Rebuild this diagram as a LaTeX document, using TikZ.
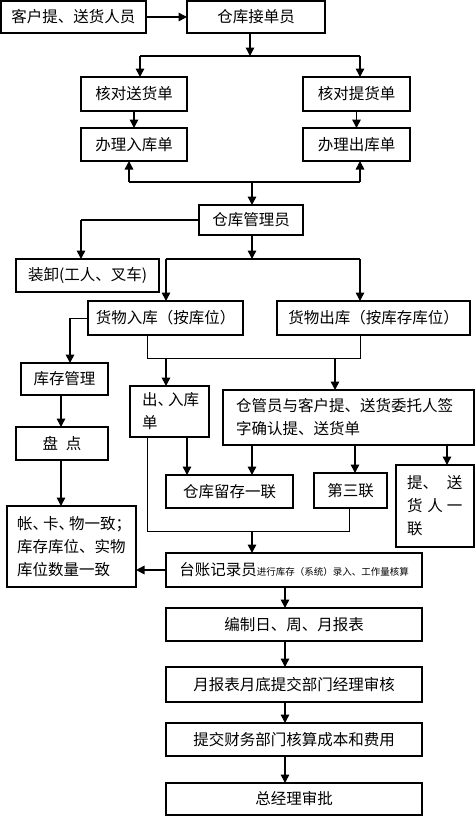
\documentclass[tikz,border=0pt]{standalone}
\usepackage{fontspec}
\setmainfont{Noto Sans CJK SC}
\usetikzlibrary{arrows.meta,calc}
\newcommand\dn{、\kern-5pt}
\newcommand\bx[7][]{\node[box,minimum width={(#5)-(#3)},minimum height={(#6)-(#4)},#1] (#2) at ({((#3)+(#5))/2},{((#4)+(#6))/2}) {#7};}
\tikzset{
  box/.style={draw,line width=1.2pt,inner sep=0pt,outer sep=0pt,font=\fontsize{15.5}{23}\selectfont},
  arr/.style={line width=1.6pt,-{Triangle[length=8.5pt,width=8.5pt]}},
  thk/.style={line width=1.6pt},
  thn/.style={line width=1pt}
}
\begin{document}
\begin{tikzpicture}[x=1pt,y=-1pt]
\useasboundingbox (0,0) rectangle (476,817);
% boxes
\bx{kh}{1}{1}{146}{33}{客户提、送货人员}
\bx{jd}{187}{1}{325}{33}{仓库接单员}
\bx{hs}{81}{77}{187}{111}{核对送货单}
\bx{ht}{303}{77}{410}{111}{核对提货单}
\bx{rk}{81}{128}{187}{161}{办理入库单}
\bx{ck}{303}{128}{410}{161}{办理出库单}
\bx{gl}{199}{205}{303}{235}{仓库管理员}
\bx{zx}{16}{259}{159}{292}{装卸(工人、叉车)}
\bx{hr}{88}{301}{243}{335}{货物入库（按库位）}
\bx{hc}{277}{301}{470}{335}{货物出库（按库存库位）}
\bx{kc}{21}{363}{108}{395}{库存管理}
\bx{pd}{16}{427}{108}{460}{盘\hspace{8pt}点}
\bx[text width=109pt,align=left]{yz}{7}{506}{136}{587}{帐\dn 卡\dn 物一致；\\库存库位、实物\\库位数量一致}
\bx[text width=55pt,align=left]{crd}{130}{386}{209}{437}{出\dn 入库\\单}
\bx[text width=225pt,align=left]{cgy}{223}{390}{474}{445}{仓管员与客户提、送货委托人签\\字确认提、送货单}
\bx{lc}{166}{475}{293}{508}{仓库留存一联}
\bx{ds}{314}{473}{387}{508}{第三联}
\bx[text width=56pt,align=left]{ts}{396}{465}{474}{547}{提、\hspace{9pt}送\\货\hspace{5pt}人\hspace{4pt}一\\联}
\bx{tz}{166}{553}{422}{587}{台账记录员{\fontsize{9.5}{11}\selectfont 进行库存（系统）录入、工作量核算}}
\bx{bz}{166}{608}{422}{641}{编制日、周、月报表}
\bx{yb}{166}{667}{422}{702}{月报表月底提交部门经理审核}
\bx{tj}{166}{723}{422}{756}{提交财务部门核算成本和费用}
\bx{zj}{166}{783}{422}{815}{总经理审批}
% coordinates
\coordinate (a1) at (250,56);
\coordinate (a2) at (140,56);
\coordinate (a3) at (360,56);
\coordinate (b1) at (129,182);
\coordinate (b2) at (252,182);
\coordinate (b3) at (360,182);
\coordinate (c1) at (81,220);
\coordinate (d1) at (166,259);
\coordinate (d2) at (252,259);
\coordinate (d3) at (360,259);
\coordinate (e1) at (70,318);
\coordinate (f1) at (61,480);
\coordinate (g1) at (147,358);
\coordinate (g2) at (166,358);
\coordinate (g3) at (335,358);
\coordinate (g4) at (360,358);
\coordinate (h1) at (187,460);
\coordinate (h2) at (252,460);
\coordinate (h3) at (355,460);
\coordinate (h4) at (447,460);
\coordinate (i1) at (147,531);
\coordinate (i2) at (252,531);
\coordinate (i3) at (349,531);
\coordinate (k1) at (285,700);
% connectors
\draw[arr] (kh) -- (jd);
\draw[arr] (a1 |- jd.south) -- (a1);
\draw[thk] (a2) -- (a3);
\draw[arr] (a2) -- (a2 |- hs.north);
\draw[arr] (a3) -- (a3 |- ht.north);
\draw[arr] (hs) -- (rk);
\draw[arr] (ht) -- (ck);
\draw[thk] (b1) -- (b3);
\draw[arr] (b1) -- (b1 |- rk.south);
\draw[arr] (b3) -- (b3 |- ck.south);
\draw[arr] (b2) -- (b2 |- gl.north);
\draw[thk] (gl.west) -- (c1);
\draw[arr] (c1) -- (c1 |- zx.north);
\draw[arr] (d2 |- gl.south) -- (d2);
\draw[thk] (d1) -- (d3);
\draw[arr] (d1) -- (d1 |- hr.north);
\draw[arr] (d3) -- (d3 |- hc.north);
\draw[thn] (hr.west) -- (e1);
\draw[arr] (e1) -- (e1 |- kc.north);
\draw[arr] (f1 |- kc.south) -- (f1 |- pd.north);
\draw[arr] (f1 |- pd.south) -- (f1 |- yz.north);
\draw[thn] (g1 |- hr.south) -- (g1) -- (g4) -- (g4 |- hc.south);
\draw[arr] (g2) -- (g2 |- crd.north);
\draw[arr] (g3) -- (g3 |- cgy.north);
\draw[arr] (h1 |- crd.south) -- (h1 |- lc.north);
\draw[arr] (h2 |- cgy.south) -- (h2 |- lc.north);
\draw[arr] (h3 |- cgy.south) -- (h3 |- ds.north);
\draw[arr] (h4 |- cgy.south) -- (h4 |- ts.north);
\draw[thn] (i1 |- crd.south) -- (i1) -- (i3) -- (i3 |- ds.south);
\draw[arr] (i2) -- (i2 |- tz.north);
\draw[arr] (tz.west) -- (tz.west -| yz.east);
\draw[arr] (k1 |- tz.south) -- (k1 |- bz.north);
\draw[arr] (k1 |- bz.south) -- (k1 |- yb.north);
\draw[arr] (k1 |- yb.south) -- (k1 |- tj.north);
\draw[arr] (k1 |- tj.south) -- (k1 |- zj.north);
\end{tikzpicture}
\end{document}
